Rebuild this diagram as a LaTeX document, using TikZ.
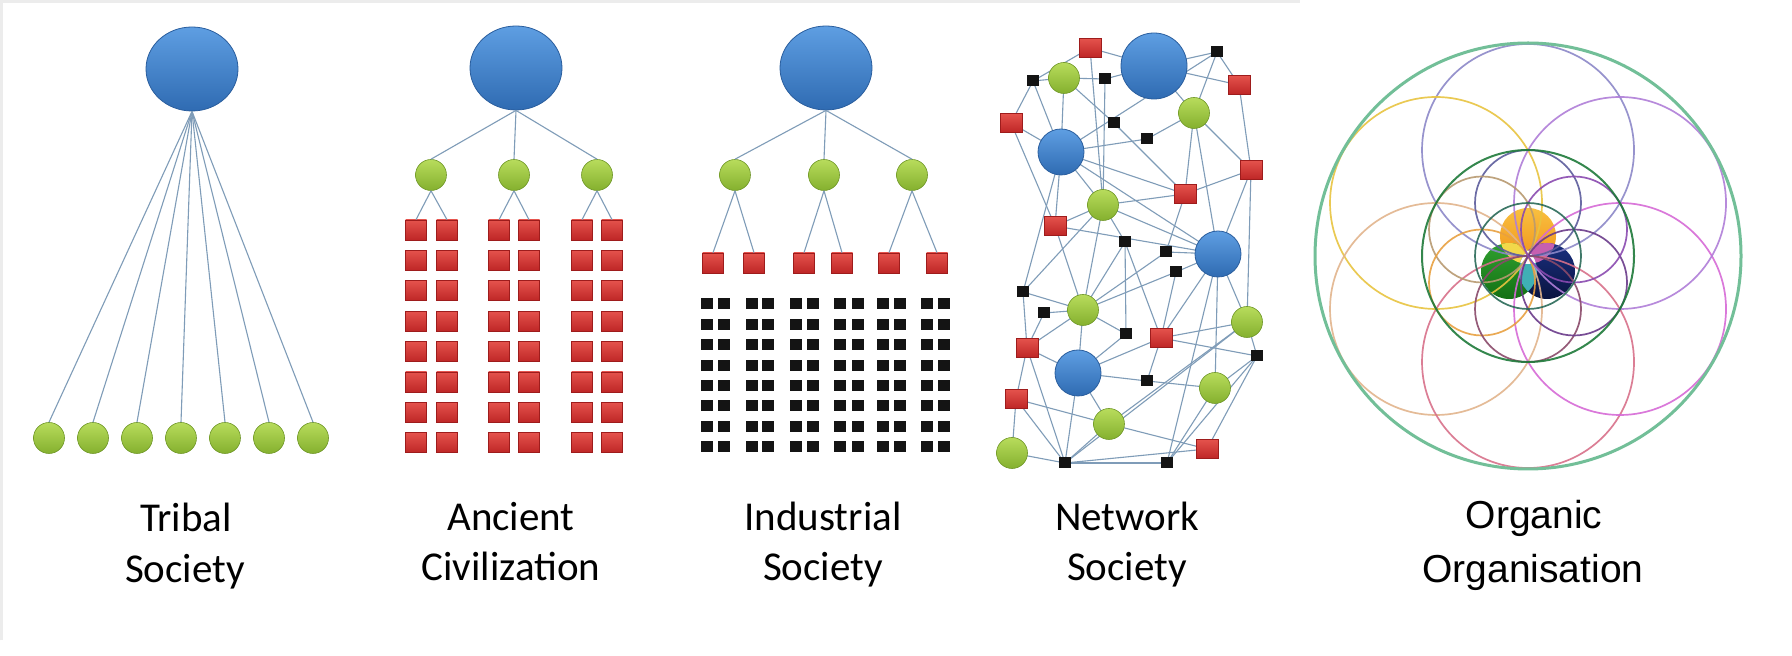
\documentclass[tikz,border=0pt]{standalone}
\usepackage{fontspec}
\newfontfamily\calfont{Carlito}
\newfontfamily\arialfont{Liberation Sans}
\usetikzlibrary{shapes.geometric}
\pgfdeclarelayer{backdrop}
\pgfdeclarelayer{background}
\pgfsetlayers{backdrop,background,main}
\definecolor{linkc}{HTML}{7F9CB8}
\definecolor{bluetop}{HTML}{5E9EE2}
\definecolor{bluebot}{HTML}{2F6BB2}
\definecolor{blueedge}{HTML}{2A5E9E}
\definecolor{greentop}{HTML}{B8DC5C}
\definecolor{greenbot}{HTML}{84B02E}
\definecolor{greenedge}{HTML}{6E9626}
\definecolor{redtop}{HTML}{E4524C}
\definecolor{redbot}{HTML}{BE2626}
\definecolor{rededge}{HTML}{9E1C1C}
\definecolor{blk}{HTML}{141414}
\definecolor{framec}{HTML}{ECECEC}
\definecolor{outerc}{HTML}{72BF98}
\definecolor{pTop}{HTML}{8C88C8}
\definecolor{pUL}{HTML}{E8C440}
\definecolor{pUR}{HTML}{B07ED8}
\definecolor{pLL}{HTML}{E2B48C}
\definecolor{pLR}{HTML}{D66AD6}
\definecolor{pBot}{HTML}{D8708A}
\definecolor{midg}{HTML}{1F7A3A}
\definecolor{sTop}{HTML}{5C5C9C}
\definecolor{sUL}{HTML}{B89A70}
\definecolor{sUR}{HTML}{8A4AB0}
\definecolor{sLL}{HTML}{E8A040}
\definecolor{sLR}{HTML}{6A3A8A}
\definecolor{sBot}{HTML}{8A4A6A}
\definecolor{sCen}{HTML}{2A6A58}
\definecolor{orgA}{HTML}{F9C040}
\definecolor{orgB}{HTML}{F09018}
\definecolor{grA}{HTML}{30A030}
\definecolor{grB}{HTML}{137013}
\definecolor{nvA}{HTML}{1A3080}
\definecolor{nvB}{HTML}{0A1440}
\definecolor{ovY}{HTML}{F2D84A}
\definecolor{ovP}{HTML}{C65FB0}
\definecolor{ovT}{HTML}{3FB0B5}
\begin{document}
\begin{tikzpicture}[x=0.5pt,y=-0.5pt,
  link/.style={draw=linkc,line width=0.55pt},
  bigblue/.style={ellipse,minimum width=46pt,minimum height=42pt,inner sep=0pt,draw=blueedge,line width=0.4pt,top color=bluetop,bottom color=bluebot},
  nbig/.style={circle,minimum size=33pt,inner sep=0pt,draw=blueedge,line width=0.4pt,top color=bluetop,bottom color=bluebot},
  nblue/.style={circle,minimum size=23pt,inner sep=0pt,draw=blueedge,line width=0.4pt,top color=bluetop,bottom color=bluebot},
  grn/.style={circle,minimum size=15.5pt,inner sep=0pt,draw=greenedge,line width=0.3pt,top color=greentop,bottom color=greenbot},
  redsq/.style={rectangle,minimum width=10.5pt,minimum height=10pt,inner sep=0pt,draw=rededge,line width=0.3pt,top color=redtop,bottom color=redbot},
  nred/.style={rectangle,minimum width=11pt,minimum height=9.5pt,inner sep=0pt,draw=rededge,line width=0.3pt,top color=redtop,bottom color=redbot},
  blksq/.style={rectangle,minimum width=6pt,minimum height=5.5pt,inner sep=0pt,fill=blk},
  lab/.style={font=\calfont\fontsize{20.5pt}{24pt}\selectfont,anchor=base,inner sep=0pt},
  orglab/.style={font=\arialfont\fontsize{19.5pt}{23pt}\selectfont,anchor=base,inner sep=0pt},
  ring/.style={line width=0.85pt,opacity=0.9}]
\useasboundingbox (0,0) rectangle (1792,656);
\begin{pgfonlayer}{backdrop}
\fill[white] (0,0) rectangle (1792,656);
\draw[framec,line width=1.5pt] (1.5,640) -- (1.5,1.5) -- (1300,1.5);
\end{pgfonlayer}

% ---------------- Tribal Society
\node[bigblue] (t0) at (192,69) {};
\foreach \i/\x in {1/49,2/93,3/137,4/181,5/225,6/269,7/313}{
  \node[grn] (tg\i) at (\x,438) {};
  \draw[link] (t0.south) -- (tg\i.north);
}
\node[lab] (tl1) at (186,532) {Tribal};
\node[lab] (tl2) at (185,583) {Society};

% ---------------- Ancient Civilization
\node[bigblue] (a0) at (516,68) {};
\foreach \g/\x/\xa/\xb in {1/431/416/447,2/514/499/529,3/597/582/612}{
  \node[grn] (ag\g) at (\x,175) {};
  \draw[link] (a0.south) -- (ag\g.north);
  \foreach \r in {1,...,8}{
    \node[redsq] (ar\g a\r) at (\xa,{230+30.4*(\r-1)}) {};
    \node[redsq] (ar\g b\r) at (\xb,{230+30.4*(\r-1)}) {};
  }
  \draw[link] (ag\g.south) -- (ar\g a1.north);
  \draw[link] (ag\g.south) -- (ar\g b1.north);
}
\node[lab] (al1) at (511,531) {Ancient};
\node[lab] (al2) at (511,581) {Civilization};

% ---------------- Industrial Society
\node[bigblue] (i0) at (826,68) {};
\foreach \g/\x/\xa/\xb in {1/735/713/754,2/824/804/842,3/912/889/937}{
  \node[grn] (ig\g) at (\x,175) {};
  \draw[link] (i0.south) -- (ig\g.north);
  \node[redsq] (ir\g a) at (\xa,263) {};
  \node[redsq] (ir\g b) at (\xb,263) {};
  \draw[link] (ig\g.south) -- (ir\g a.north);
  \draw[link] (ig\g.south) -- (ir\g b.north);
}
\foreach \c/\x in {1/707,2/724,3/752,4/768,5/796,6/813,7/840,8/858,9/883,10/900,11/927,12/944}{
  \foreach \r in {1,...,8}{
    \node[blksq] (ib\c-\r) at (\x,{304+20.4*(\r-1)}) {};
  }
}
\node[lab] (il1) at (823,531) {Industrial};
\node[lab] (il2) at (823,581) {Society};

% ---------------- Network Society
\node[nbig] (B1) at (1154,66) {};
\node[nblue] (B2) at (1061,152) {};
\node[nblue] (B3) at (1218,254) {};
\node[nblue] (B4) at (1078,373) {};
\foreach \n/\x/\y in {G1/1064/78,G2/1194/113,G3/1103/205,G4/1083/310,G5/1247/322,G6/1215/388,G7/1109/424,G8/1012/453}{
  \node[grn] (\n) at (\x,\y) {};
}
\foreach \n/\x/\y in {R1/1090/48,R2/1239/85,R3/1011/123,R4/1251/170,R5/1185/194,R6/1055/226,R7/1161/338,R8/1027/348,R9/1016/399,R10/1207/449}{
  \node[nred] (\n) at (\x,\y) {};
}
\foreach \n/\x/\y in {K1/1217/52,K2/1033/81,K3/1105/79,K4/1114/123,K5/1147/139,K6/1125/242,K7/1166/252,K8/1176/272,K9/1023/292,K10/1044/313,K11/1126/334,K12/1257/356,K13/1147/381,K14/1065/463,K15/1167/463}{
  \node[blksq] (\n) at (\x,\y) {};
}
\begin{pgfonlayer}{background}
\foreach \a/\b in {R1/B1,R1/K2,R1/G3,K2/G1,K2/R3,K2/B2,G1/B2,G1/K3,G1/K4,K3/B1,K3/G3,K4/R5,
  B2/K5,B2/K1,B2/R3,B2/R6,B2/K9,B2/G3,B2/R5,B2/B3,B1/K1,B1/R2,B1/G2,K1/R2,K1/G2,
  G2/R4,G2/R5,G2/B3,G2/K5,R2/R4,R4/R5,R4/B3,R4/G5,R5/G3,R5/K7,B3/K7,B3/K8,B3/G5,B3/G6,
  B3/K15,B3/R7,B3/R6,B3/G3,K7/G4,K8/G4,K8/R7,K6/R7,K6/K11,K6/G4,K6/G3,R7/G5,R7/K12,
  R7/K13,R7/B4,G5/K12,G5/G7,G5/K14,G6/K13,G6/K12,G6/K15,R10/K12,R10/G7,R10/K14,K15/K12,
  K15/K14,G7/K14,G7/B4,G7/R9,B4/R8,B4/K13,B4/K14,B4/G4,B4/K11,R8/K9,R8/K10,R8/G4,R8/R9,
  R8/K14,R9/G8,R9/K14,G8/K14,K9/G3,K9/G4,K10/G4,G4/G3,G4/R6,G4/K11,R6/R3,R6/G3}{
  \draw[link] (\a.center) -- (\b.center);
}
\end{pgfonlayer}
\node[lab] (nl1) at (1127,531) {Network};
\node[lab] (nl2) at (1127,581) {Society};

% ---------------- Organic Organisation
\coordinate (bo) at (1528,236);
\coordinate (bg) at (1509,271);
\coordinate (bn) at (1547,271);
\shade[top color=orgA,bottom color=orgB] (bo) circle (28);
\shade[top color=grA,bottom color=grB] (bg) circle (28);
\shade[top color=nvA,bottom color=nvB] (bn) circle (28);
\begin{scope}\clip (bo) circle (28); \fill[ovY] (bg) circle (28); \end{scope}
\begin{scope}\clip (bo) circle (28); \fill[ovP] (bn) circle (28); \end{scope}
\begin{scope}\clip (bg) circle (28); \fill[ovT] (bn) circle (28); \end{scope}
\begin{scope}\clip (bo) circle (28); \clip (bg) circle (28); \fill[white!92!pink] (bn) circle (28); \end{scope}

\draw[ring,pTop] (1528,150) circle (106);
\draw[ring,pUL] (1436,203) circle (106);
\draw[ring,pLL] (1436,309) circle (106);
\draw[ring,pBot] (1528,362) circle (106);
\draw[ring,pLR] (1620,309) circle (106);
\draw[ring,pUR] (1620,203) circle (106);
\draw[ring,sTop] (1528,203) circle (53);
\draw[ring,sUL] (1482,229.5) circle (53);
\draw[ring,sLL] (1482,282.5) circle (53);
\draw[ring,sBot] (1528,309) circle (53);
\draw[ring,sLR] (1574,282.5) circle (53);
\draw[ring,sUR] (1574,229.5) circle (53);
\draw[ring,sCen] (1528,256) circle (53);
\draw[ring,midg,line width=1pt] (1528,256) circle (106);
\draw[outerc,line width=1.5pt] (1528,256) circle (213);
\node[orglab] (ol1) at (1534,529) {Organic};
\node[orglab] (ol2) at (1533,583) {Organisation};
\end{tikzpicture}
\end{document}
